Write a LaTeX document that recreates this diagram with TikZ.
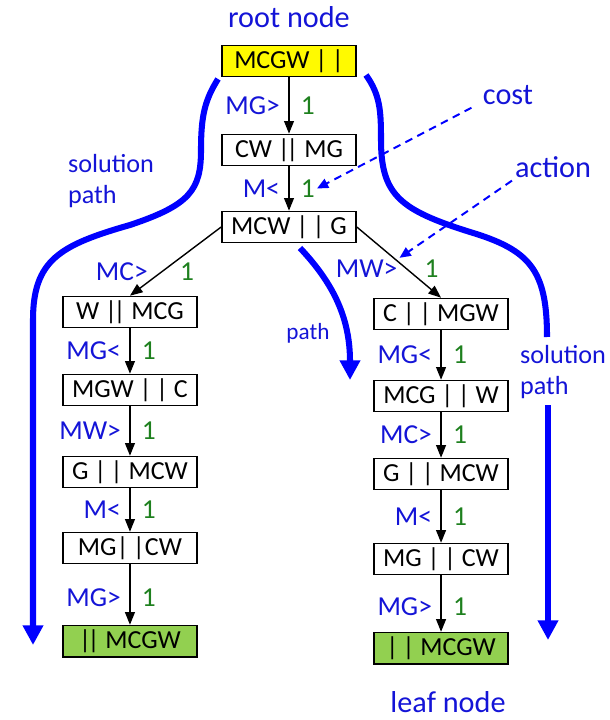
\documentclass[tikz,border=0pt]{standalone}
\usepackage{fontspec}
\setmainfont{Carlito}
\usetikzlibrary{positioning, arrows.meta}
\definecolor{labelblue}{RGB}{20,20,215}
\definecolor{costgreen}{RGB}{30,128,30}
\definecolor{rootyellow}{RGB}{255,250,0}
\definecolor{leafgreen}{RGB}{146,208,80}
\newcommand{\tightbars}{|\kern-2.5pt|}

\begin{document}
\begin{tikzpicture}[
    x=0.025cm, y=-0.025cm,
    on grid,
    config/.style={draw=black, line width=1.2pt, minimum width=3.35cm, minimum height=0.775cm, inner sep=0pt, font=\fontsize{18.5}{21}\selectfont},
    start/.style={config, fill=rootyellow},
    goal/.style={config, fill=leafgreen},
    act/.style={anchor=east, xshift=-5pt, inner sep=1pt, text=labelblue, font=\fontsize{19.5}{23}\selectfont},
    costlabel/.style={anchor=west, xshift=7pt, inner sep=1pt, text=costgreen, font=\fontsize{19.5}{23}\selectfont},
    note/.style={inner sep=2pt, text=labelblue, font=\fontsize{21.5}{25}\selectfont},
    pathnote/.style={inner sep=2pt, text=labelblue, align=left, font=\fontsize{18.6}{22.7}\selectfont},
    >={Triangle[length=9pt, width=7pt]},
    move/.style={->, line width=1pt},
    solline/.style={draw=blue, line width=4.3pt},
    solpath/.style={solline, -{Triangle[length=14pt, width=14pt]}},
    pointer/.style={draw=blue, line width=1.4pt, dash pattern=on 5.5pt off 4pt, -{Triangle[length=8pt, width=7pt]}}
]
   \useasboundingbox (0,0) rectangle (609,720);

   % States
   \node[start] (root) at (289,61) {MCGW |\,|};
   \node[config] (cw) [below=2.225cm of root] {CW \tightbars{} MG};
   \node[config] (mcw) [below=1.925cm of cw] {MCW |\,| G};

   \node[config] (l1) [below left=2.125cm and 3.975cm of mcw] {W \tightbars{} MCG};
   \node[config] (l2) [below=1.95cm of l1] {MGW |\,| C};
   \node[config] (l3) [below=2.05cm of l2] {G |\,| MCW};
   \node[config] (l4) [below=1.9cm of l3] {MG|\,|CW};
   \node[goal] (l5) [below=2.325cm of l4] {\tightbars{} MCGW};

   \node[config] (r1) [below right=2.175cm and 3.8cm of mcw] {C |\,| MGW};
   \node[config] (r2) [below=2.05cm of r1] {MCG |\,| W};
   \node[config] (r3) [below=1.95cm of r2] {G |\,| MCW};
   \node[config] (r4) [below=2.125cm of r3] {MG |\,| CW};
   \node[goal] (r5) [below=2.225cm of r4] {|\,| MCGW};

   % Transitions
   \path[move]
   (root) edge node[act] {MG>} node[costlabel] {1} (cw)
   (cw) edge node[act] {M<} node[costlabel] (c2) {1} (mcw)
   (mcw.west) edge node[act, pos=0.65, xshift=-3.6pt] {MC>} node[costlabel, pos=0.65, xshift=4.4pt] {1} (l1.north)
   (mcw.east) edge node[act, pos=0.59] (mw) {MW>} node[costlabel, pos=0.59, xshift=4.3pt] {1} (r1.north)
   (l1) edge node[act] {MG<} node[costlabel] {1} (l2)
   (l2) edge node[act] {MW>} node[costlabel] {1} (l3)
   (l3) edge node[act] {M<} node[costlabel] {1} (l4)
   (l4) edge node[act, pos=0.55] {MG>} node[costlabel, pos=0.55] {1} (l5)
   (r1) edge node[act] {MG<} node[costlabel] {1} (r2)
   (r2) edge node[act] {MC>} node[costlabel] {1} (r3)
   (r3) edge node[act] {M<} node[costlabel] {1} (r4)
   (r4) edge node[act, pos=0.55] {MG>} node[costlabel, pos=0.55] {1} (r5);

   % Notes
   \node[note] (rootnote) [above=1.1cm of root] {root node};
   \node[note] (leafnote) [below=1.35cm of r5, xshift=0.175cm] {leaf node};
   \node[note] (cost) at (508,95) {cost};
   \node[note] (action) at (553,167) {action};
   \node[pathnote, anchor=west] (solleft) at (65,181) {solution\\path};
   \node[pathnote, anchor=west] (solright) at (517,372) {solution\\path};
   \node[pathnote, font=\fontsize{16.5}{20}\selectfont] (pathnote) at (308,333) {path};

   \draw[pointer] ([xshift=-6pt]cost.south west) -- (c2.east);
   \draw[pointer] (action.south west) -- (mw.north east);

   % Paths
   \draw[solpath] (218,79) .. controls (205,100) and (201,115) .. (201,150)
       .. controls (201,190) and (190,205) .. (130,225)
       .. controls (60,245) and (33,260) .. (33,320) -- (33,645);
   \draw[solline] (366,75) .. controls (380,95) and (381,110) .. (381,140)
       .. controls (381,195) and (400,210) .. (470,232)
       .. controls (530,250) and (547,270) .. (547,337);
   \draw[solpath] (548,405) -- (548,640);
   \draw[solpath] (300,248) .. controls (335,285) and (350,320) .. (350,380);
\end{tikzpicture}
\end{document}
